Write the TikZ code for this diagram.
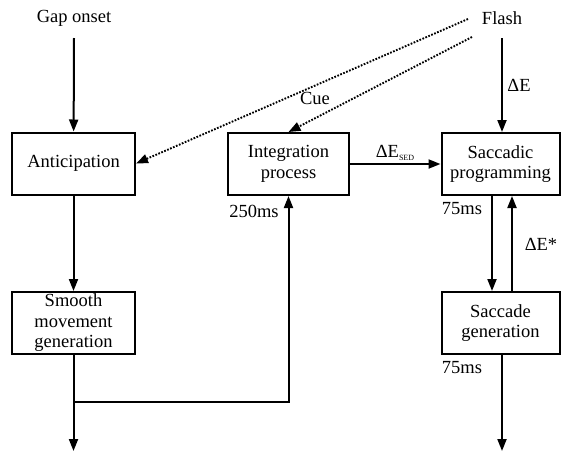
\documentclass[tikz,border=0pt]{standalone}
\usepackage{fontspec}
\setmainfont{Liberation Serif}
\usetikzlibrary{arrows.meta}
\begin{document}
\begin{tikzpicture}[x=1pt,y=-1pt,
  txt/.style={font=\fontsize{18.5}{20.5}\selectfont,inner sep=0pt},
  box/.style={txt,draw,line width=2pt,minimum height=62pt,align=center},
  arr/.style={line width=2pt,-{Triangle[length=12pt,width=9pt]}},
  dotarr/.style={line width=1.9pt,dash pattern=on 1.7pt off 1.5pt,-{Triangle[length=12pt,width=9pt]}}]
\useasboundingbox (0,0) rectangle (561,453);
% texts
\node[txt] (gap) at (74,18) {Gap onset};
\node[txt] (flash) at (502,18) {Flash};
% boxes
\node[box,minimum width=123pt] (ant) at (73.5,163.5) {Anticipation};
\node[box,minimum width=123pt] (smooth) at (73.5,323) {Smooth\\movement\\generation};
\node[box,minimum width=121pt] (integ) at (288.5,164) {Integration\\process};
\node[box,minimum width=118pt] (sacc) at (500.5,164) {Saccadic\\programming};
\node[box,minimum width=118pt] (sgen) at (500.5,323) {Saccade\\generation};
% coordinates
\coordinate (gapS) at (74,38);
\coordinate (flashS) at (502,38);
\coordinate (f1) at (468,19);
\coordinate (f2) at (472,37);
\coordinate (br) at (73.5,402);
\coordinate (out1) at (73.5,451);
\coordinate (out2) at (502,451);
% connectors
\draw[arr] (gapS) -- (ant);
\draw[arr] (flashS) -- (flashS |- sacc.north);
\draw[arr] (ant) -- (smooth);
\draw[arr] (smooth) -- (out1);
\draw[arr] (br) -| (integ.south);
\draw[arr] (integ) -- (sacc);
\draw[arr] ([xshift=-8.5pt]sacc.south) -- ([xshift=-8.5pt]sgen.north);
\draw[arr] ([xshift=11.5pt]sgen.north) -- ([xshift=11.5pt]sacc.south);
\draw[arr] (sgen.south -| out2) -- (out2);
\draw[dotarr] (f1) -- (ant.east);
\draw[dotarr] (f2) -- (integ.north);
% labels
\node[txt] (dE) at (519,85) {ΔE};
\node[txt] (dEsed) at (395,153) {ΔE\raisebox{-0.35ex}{\fontsize{8}{9}\selectfont SED}};
\node[txt] (cue) at (315,98) {Cue};
\node[txt] (t250) at (254,211) {250ms};
\node[txt] (t75a) at (462,209) {75ms};
\node[txt] (t75b) at (462,368) {75ms};
\node[txt] (dEs) at (541,244) {ΔE*};
\end{tikzpicture}
\end{document}
